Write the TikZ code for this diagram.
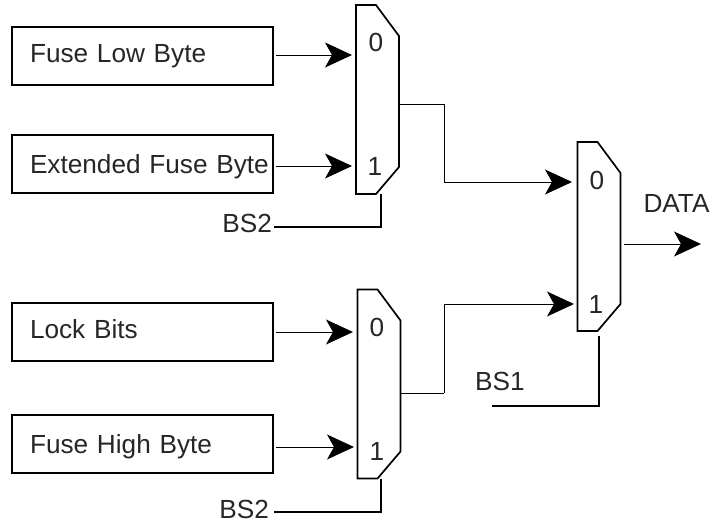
\documentclass[tikz,border=0pt]{standalone}
\usepackage{fontspec}
\setmainfont{Liberation Sans}
\usetikzlibrary{positioning, calc, arrows.meta}

\tikzset{
  inbox/.style={draw, line width=1.7pt, minimum height=58pt, text width=261pt, inner xsep=0pt, inner ysep=0pt,
    outer xsep=3pt, outer ysep=0pt, align=left, text height=19pt, text depth=#1,
    execute at begin node={\hspace*{18pt}}},
  muxbody/.style={draw=none, minimum width=43pt, minimum height=189pt, inner sep=0pt, outer sep=0pt},
  muxline/.style={line width=1.7pt, line join=miter, fill=white},
  lbl/.style={inner sep=0pt, outer sep=0pt},
  feed/.style={line width=0.9pt, -{Stealth[length=27pt, width=25pt, inset=7pt]}},
  wire/.style={line width=0.9pt},
  selwire/.style={line width=1.5pt}
}

\newcommand{\muxoutline}[1]{
  \draw[muxline] (#1.north west) -- ($(#1.north west)+(20,0)$) -- ($(#1.north east)+(0,31)$)
    -- ($(#1.south east)+(0,-27)$) -- ($(#1.south west)+(20,0)$) -- (#1.south west) -- cycle;
}

\begin{document}
\begin{tikzpicture}[x=1pt, y=-1pt, font=\fontsize{26.2pt}{30pt}\selectfont, text=black!85]
  \useasboundingbox (0,0) rectangle (711,523);
  % input registers
  \node[inbox=7pt] (fuselow) at (142.5,56) {Fuse Low Byte};
  \node[inbox=1pt] (fuseext) at (142.5,164) {Extended Fuse Byte};
  \node[inbox=7pt] (lockbits) at (142.5,332) {Lock Bits};
  \node[inbox=1pt] (fusehigh) at (142.5,444) {Fuse High Byte};
  % multiplexers
  \node[muxbody] (mux1) at (377.5,99.5) {};
  \node[muxbody] (mux2) at (599,236.5) {};
  \node[muxbody] (mux3) at (379,384) {};
  \muxoutline{mux1}
  \muxoutline{mux2}
  \muxoutline{mux3}
  \node[lbl] (m1zero) at (376,42) {0};
  \node[lbl] (m1one) at (375,166) {1};
  \node[lbl] (m2zero) at (597,180) {0};
  \node[lbl] (m2one) at (596,304) {1};
  \node[lbl] (m3zero) at (377,327) {0};
  \node[lbl] (m3one) at (377,451) {1};
  % mux pins
  \coordinate (m1in0) at (352,55);
  \coordinate (m1in1) at (352,166);
  \coordinate (m1out) at (399,104);
  \coordinate (m1sel) at (381,194);
  \coordinate (m2in0) at (572,182);
  \coordinate (m2in1) at (574,304);
  \coordinate (m2out) at (624,244);
  \coordinate (m2sel) at (599,336);
  \coordinate (m3in0) at (353,332);
  \coordinate (m3in1) at (354,447);
  \coordinate (m3out) at (401,393);
  \coordinate (m3sel) at (381,479);
  \coordinate (dataend) at (701,244);
  \coordinate (bendtop) at (444,104);
  \coordinate (bendlow) at (444,393);
  % select labels
  \node[lbl, anchor=east] (bs2top) at (272,223) {BS2};
  \node[lbl, anchor=east] (bs2low) at (269,509) {BS2};
  \node[lbl] (bs1) at (500,381) {BS1};
  \node[lbl] (data) at (676.5,203) {DATA};
  \coordinate (bs2topstart) at (274,227);
  \coordinate (bs2lowstart) at (274,512);
  \coordinate (bs1start) at (492,406);
  % connectors
  \draw[feed] (fuselow.east |- m1in0) -- (m1in0);
  \draw[feed] (fuseext.east |- m1in1) -- (m1in1);
  \draw[feed] (lockbits.east |- m3in0) -- (m3in0);
  \draw[feed] (fusehigh.east |- m3in1) -- (m3in1);
  \draw[feed] (m2out) -- (dataend);
  \draw[wire] (m1out) -- (bendtop);
  \draw[feed] (bendtop) |- (m2in0);
  \draw[wire] (m3out) -- (bendlow);
  \draw[feed] (bendlow) |- (m2in1);
  \draw[selwire] (bs2topstart) -| (m1sel);
  \draw[selwire] (bs2lowstart) -| (m3sel);
  \draw[selwire] (bs1start) -| (m2sel);
\end{tikzpicture}
\end{document}
